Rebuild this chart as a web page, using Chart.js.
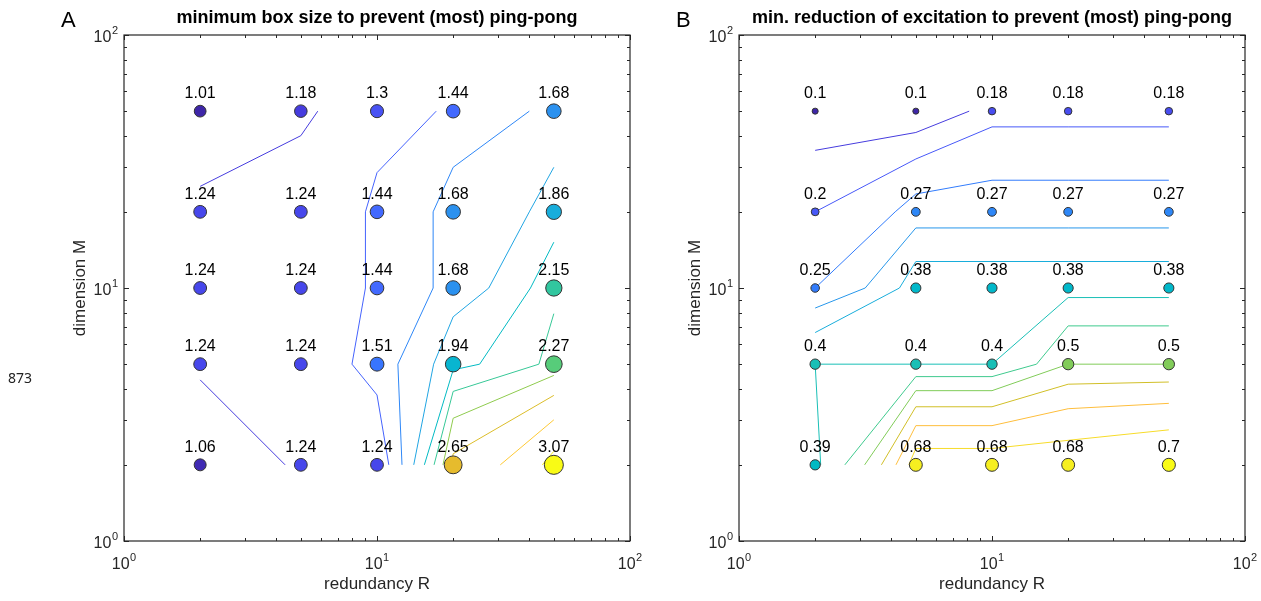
<!DOCTYPE html>
<html>
<head>
<meta charset="utf-8">
<script src="https://cdn.jsdelivr.net/npm/chart.js@4.4.1/dist/chart.umd.min.js"></script>
<style>
  html, body { margin: 0; padding: 0; background: #fff; }
  body { width: 1261px; height: 601px; position: relative; overflow: hidden; }
  .panel { position: absolute; top: 0; }
  #note { position: absolute; left: 8px; top: 370.5px; font: 14px/14px "Noto Sans", sans-serif; color: #222; }
</style>
</head>
<body>
<canvas id="panelA" class="panel" width="660" height="601" style="left:0"></canvas>
<canvas id="panelB" class="panel" width="646" height="601" style="left:615px"></canvas>
<div id="note">873</div>
<script>
// ---- data -------------------------------------------------------------
const redundancyR = [2, 5, 10, 20, 50];
const dimensionM = [2, 5, 10, 20, 50];

// rows follow dimensionM (2 ... 50), columns follow redundancyR (2 ... 50)
const minBoxSize = [
  [1.06, 1.24, 1.24, 2.65, 3.07],
  [1.24, 1.24, 1.51, 1.94, 2.27],
  [1.24, 1.24, 1.44, 1.68, 2.15],
  [1.24, 1.24, 1.44, 1.68, 1.86],
  [1.01, 1.18, 1.3, 1.44, 1.68]
];
const minExcitationReduction = [
  [0.39, 0.68, 0.68, 0.68, 0.7],
  [0.4, 0.4, 0.4, 0.5, 0.5],
  [0.25, 0.38, 0.38, 0.38, 0.38],
  [0.2, 0.27, 0.27, 0.27, 0.27],
  [0.1, 0.1, 0.18, 0.18, 0.18]
];

const boxSizeLevels = [1.2, 1.4, 1.6, 1.8, 2.0, 2.2, 2.4, 2.6, 2.8, 3.0];
const reductionLevels = [0.15, 0.2, 0.25, 0.3, 0.35, 0.4, 0.45, 0.5, 0.55, 0.6, 0.65];

const decadeTicks = [1, 10, 100];
const decadeExponents = ['0', '1', '2'];

// ---- style ------------------------------------------------------------
const FONT = '"Liberation Sans", Arial, Helvetica, sans-serif';
const AXIS_COLOR = '#262626';

const PARULA = [
  [0.2422,0.1504,0.6603],[0.2504,0.1650,0.7076],[0.2578,0.1818,0.7511],[0.2647,0.1978,0.7952],
  [0.2706,0.2147,0.8364],[0.2751,0.2342,0.8710],[0.2783,0.2559,0.8991],[0.2803,0.2782,0.9221],
  [0.2813,0.3006,0.9414],[0.2810,0.3228,0.9579],[0.2795,0.3447,0.9717],[0.2760,0.3667,0.9829],
  [0.2699,0.3892,0.9906],[0.2602,0.4123,0.9952],[0.2440,0.4358,0.9988],[0.2206,0.4603,0.9973],
  [0.1963,0.4847,0.9892],[0.1834,0.5074,0.9798],[0.1786,0.5289,0.9682],[0.1764,0.5499,0.9520],
  [0.1687,0.5703,0.9359],[0.1540,0.5902,0.9218],[0.1460,0.6091,0.9079],[0.1380,0.6276,0.8973],
  [0.1248,0.6459,0.8883],[0.1113,0.6635,0.8763],[0.0952,0.6798,0.8598],[0.0689,0.6948,0.8394],
  [0.0297,0.7082,0.8163],[0.0036,0.7203,0.7917],[0.0067,0.7312,0.7660],[0.0433,0.7411,0.7394],
  [0.0964,0.7500,0.7120],[0.1408,0.7584,0.6842],[0.1717,0.7670,0.6554],[0.1938,0.7758,0.6251],
  [0.2161,0.7843,0.5923],[0.2470,0.7918,0.5567],[0.2906,0.7973,0.5188],[0.3406,0.8008,0.4789],
  [0.3909,0.8029,0.4354],[0.4456,0.8024,0.3909],[0.5044,0.7993,0.3480],[0.5616,0.7942,0.3045],
  [0.6174,0.7876,0.2612],[0.6720,0.7793,0.2227],[0.7242,0.7698,0.1910],[0.7738,0.7598,0.1646],
  [0.8203,0.7498,0.1535],[0.8634,0.7406,0.1596],[0.9035,0.7330,0.1774],[0.9393,0.7288,0.2100],
  [0.9728,0.7298,0.2394],[0.9956,0.7434,0.2371],[0.9970,0.7659,0.2199],[0.9952,0.7893,0.2028],
  [0.9892,0.8136,0.1885],[0.9786,0.8386,0.1766],[0.9676,0.8639,0.1643],[0.9610,0.8890,0.1537],
  [0.9597,0.9135,0.1423],[0.9628,0.9373,0.1265],[0.9691,0.9606,0.1064],[0.9769,0.9839,0.0805]
];

function colourFor(v, lo, hi) {
  let idx = Math.floor((v - lo) / (hi - lo) * PARULA.length);
  idx = Math.max(0, Math.min(PARULA.length - 1, idx));
  const c = PARULA[idx].map(u => Math.round(u * 255));
  return `rgb(${c[0]},${c[1]},${c[2]})`;
}

// ---- contouring (marching squares on the data grid) ------------------
function crossing(xa, ya, va, xb, yb, vb, level) {
  // interpolate from the lower corner so shared edges give identical points
  if (xa > xb || (xa === xb && ya > yb)) {
    [xa, xb] = [xb, xa]; [ya, yb] = [yb, ya]; [va, vb] = [vb, va];
  }
  const t = (level - va) / (vb - va);
  return [xa + t * (xb - xa), ya + t * (yb - ya)];
}

function chainSegments(segs) {
  const key = p => p[0].toFixed(9) + ',' + p[1].toFixed(9);
  const used = segs.map(() => false);
  const lines = [];
  for (let s = 0; s < segs.length; s++) {
    if (used[s]) continue;
    used[s] = true;
    const line = [segs[s][0], segs[s][1]];
    let grown = true;
    while (grown) {
      grown = false;
      for (let k = 0; k < segs.length; k++) {
        if (used[k]) continue;
        const [a, b] = segs[k];
        const head = key(line[0]), tail = key(line[line.length - 1]);
        if (key(a) === tail) line.push(b);
        else if (key(b) === tail) line.push(a);
        else if (key(b) === head) line.unshift(a);
        else if (key(a) === head) line.unshift(b);
        else continue;
        used[k] = true;
        grown = true;
      }
    }
    lines.push(line);
  }
  return lines;
}

function contourLines(xs, ys, z, level) {
  const up = v => v >= level;
  const segs = [];
  for (let j = 0; j < ys.length - 1; j++) {
    for (let i = 0; i < xs.length - 1; i++) {
      const x0 = xs[i], x1 = xs[i + 1], y0 = ys[j], y1 = ys[j + 1];
      const v00 = z[j][i], v10 = z[j][i + 1], v11 = z[j + 1][i + 1], v01 = z[j + 1][i];
      const p = [];
      if (up(v00) !== up(v10)) p[0] = crossing(x0, y0, v00, x1, y0, v10, level);
      if (up(v10) !== up(v11)) p[1] = crossing(x1, y0, v10, x1, y1, v11, level);
      if (up(v11) !== up(v01)) p[2] = crossing(x1, y1, v11, x0, y1, v01, level);
      if (up(v01) !== up(v00)) p[3] = crossing(x0, y1, v01, x0, y0, v00, level);
      const e = [0, 1, 2, 3].filter(k => p[k]);
      if (e.length === 2) {
        segs.push([p[e[0]], p[e[1]]]);
      } else if (e.length === 4) {
        const centreUp = up((v00 + v10 + v11 + v01) / 4);
        if (centreUp === up(v00)) { segs.push([p[0], p[1]]); segs.push([p[2], p[3]]); }
        else { segs.push([p[3], p[0]]); segs.push([p[1], p[2]]); }
      }
    }
  }
  return chainSegments(segs);
}

// ---- axes furniture ---------------------------------------------------
function logTicks() {
  const ticks = [];
  for (let d = 0; d < 2; d++) {
    for (let m = 1; m < 10; m++) ticks.push({ value: m * Math.pow(10, d), major: m === 1 });
  }
  ticks.push({ value: 100, major: true });
  return ticks;
}

function drawPower(ctx, exp, x, y, align) {
  ctx.font = '16px ' + FONT;
  const wb = ctx.measureText('10').width;
  ctx.font = '11px ' + FONT;
  const we = ctx.measureText(exp).width;
  const total = wb + we + 0.5;
  const start = align === 'right' ? x - total : x - total / 2;
  ctx.textAlign = 'left';
  ctx.textBaseline = 'alphabetic';
  ctx.font = '16px ' + FONT;
  ctx.fillText('10', start, y);
  ctx.font = '11px ' + FONT;
  ctx.fillText(exp, start + wb + 0.5, y - 8);
}

const framePlugin = {
  id: 'frame',
  afterDraw(chart, args, opts) {
    const { ctx, chartArea: a, scales: { x, y } } = chart;
    ctx.save();
    ctx.strokeStyle = AXIS_COLOR;
    ctx.lineWidth = 1;

    // inward tick marks on all four sides
    ctx.beginPath();
    x.ticks.forEach(t => {
      const px = Math.round(x.getPixelForValue(t.value)) + 0.5;
      const len = t.major ? 5 : 3;
      ctx.moveTo(px, a.bottom); ctx.lineTo(px, a.bottom - len);
      ctx.moveTo(px, a.top); ctx.lineTo(px, a.top + len);
    });
    y.ticks.forEach(t => {
      const py = Math.round(y.getPixelForValue(t.value)) + 0.5;
      const len = t.major ? 5 : 3;
      ctx.moveTo(a.left, py); ctx.lineTo(a.left + len, py);
      ctx.moveTo(a.right, py); ctx.lineTo(a.right - len, py);
    });
    ctx.stroke();

    // box
    ctx.lineWidth = 1.2;
    ctx.strokeRect(a.left, a.top, a.right - a.left, a.bottom - a.top);

    // decade labels
    ctx.fillStyle = AXIS_COLOR;
    decadeTicks.forEach((v, k) => {
      drawPower(ctx, decadeExponents[k], x.getPixelForValue(v), a.bottom + 28, 'center');
      drawPower(ctx, decadeExponents[k], a.left - 6, y.getPixelForValue(v) + 7, 'right');
    });

    // value labels above the markers
    const meta = chart.getDatasetMeta(0);
    const pts = chart.data.datasets[0].data;
    ctx.fillStyle = '#000';
    ctx.font = '16px ' + FONT;
    ctx.textAlign = 'center';
    ctx.textBaseline = 'alphabetic';
    meta.data.forEach((el, k) => {
      ctx.fillText(String(pts[k].v), el.x, el.y - 13);
    });

    // panel title and letter
    ctx.font = 'bold 18px ' + FONT;
    ctx.fillText(opts.title, (a.left + a.right) / 2, 23);
    ctx.font = '22px ' + FONT;
    ctx.textAlign = 'left';
    ctx.fillText(opts.letter, 61, 27);
    ctx.restore();
  }
};

// ---- chart builder ----------------------------------------------------
function buildPanel(canvasId, grid, levels, markerDiameter, title, letter, rightPad) {
  const flat = grid.flat();
  const lo = Math.min(...flat), hi = Math.max(...flat);

  const points = [], radii = [], fills = [];
  dimensionM.forEach((m, j) => {
    redundancyR.forEach((r, i) => {
      const v = grid[j][i];
      points.push({ x: r, y: m, v });
      radii.push(markerDiameter(v) / 2 - 0.5);
      fills.push(colourFor(v, lo, hi));
    });
  });

  const datasets = [{
    data: points,
    pointRadius: radii,
    pointBackgroundColor: fills,
    pointBorderColor: '#333',
    pointBorderWidth: 1,
    pointHoverRadius: radii,
    order: 0
  }];

  levels.forEach(level => {
    const colour = colourFor(level, lo, hi);
    contourLines(redundancyR, dimensionM, grid, level).forEach(line => {
      datasets.push({
        data: line.map(([px, py]) => ({ x: px, y: py })),
        showLine: true,
        borderColor: colour,
        borderWidth: 1,
        pointRadius: 0,
        tension: 0,
        order: 1
      });
    });
  });

  const axisTitleFont = { family: FONT, size: 17 };
  return new Chart(document.getElementById(canvasId), {
    type: 'scatter',
    data: { datasets },
    options: {
      responsive: false,
      animation: false,
      events: [],
      layout: { padding: { left: 70, right: rightPad, top: 35, bottom: 0 } },
      scales: {
        x: {
          type: 'logarithmic', min: 1, max: 100,
          afterBuildTicks: s => { s.ticks = logTicks(); },
          afterFit: s => { s.height = 60; },
          ticks: { display: false },
          grid: { display: false },
          border: { display: false },
          title: { display: true, text: 'redundancy R', color: AXIS_COLOR, font: axisTitleFont, padding: { top: 0, bottom: 6 } }
        },
        y: {
          type: 'logarithmic', min: 1, max: 100,
          afterBuildTicks: s => { s.ticks = logTicks(); },
          afterFit: s => { s.width = 54; },
          ticks: { display: false },
          grid: { display: false },
          border: { display: false },
          title: { display: true, text: 'dimension M', color: AXIS_COLOR, font: axisTitleFont, padding: { top: 0, bottom: 0 } }
        }
      },
      plugins: {
        legend: { display: false },
        tooltip: { enabled: false },
        frame: { title, letter }
      }
    },
    plugins: [framePlugin]
  });
}

buildPanel('panelA', minBoxSize, boxSizeLevels,
  v => 2.9 + 9.8 * Math.sqrt(v),
  'minimum box size to prevent (most) ping-pong', 'A', 30);
buildPanel('panelB', minExcitationReduction, reductionLevels,
  v => 2.8 + 13.5 * Math.sqrt(v),
  'min. reduction of excitation to prevent (most) ping-pong', 'B', 16);
</script>
</body>
</html>
